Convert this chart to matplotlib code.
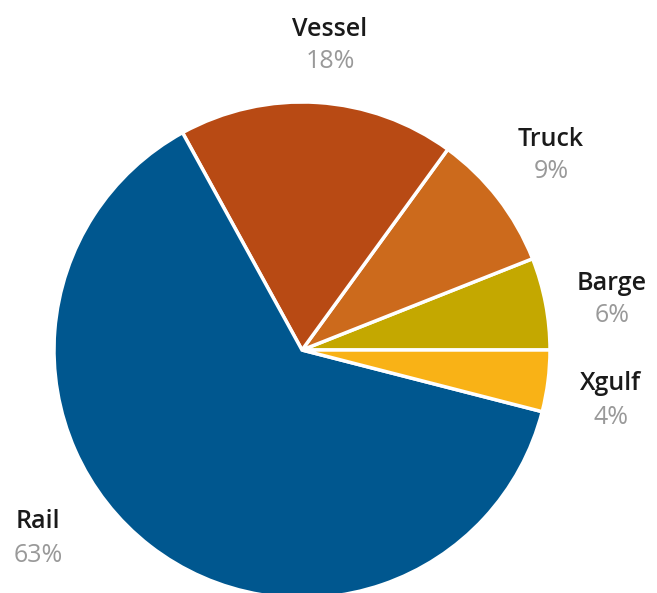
import matplotlib
matplotlib.use('Agg')
import matplotlib.pyplot as plt

# freight share by transport mode
modes = ['Barge', 'Truck', 'Vessel', 'Rail', 'Xgulf']
shares = [6, 9, 18, 63, 4]
colors = ['#C4A800', '#CC6A1C', '#B84A14', '#00578F', '#F9B216']

# label anchor (pixel position of the mode name, centre of text)
label_px = {
    'Vessel': (330, 29),
    'Truck': (551, 139),
    'Barge': (612, 283),
    'Xgulf': (611, 384),
    'Rail': (38, 522),
}

W, H = 657, 593
cx, cy, r = 302, 350, 248

plt.rcParams['font.family'] = ['Open Sans', 'DejaVu Sans']
fig = plt.figure(figsize=(W / 100, H / 100), dpi=100)
ax = fig.add_axes([(cx - r) / W, (H - cy - r) / H, 2 * r / W, 2 * r / H])

ax.pie(shares, colors=colors, startangle=0, counterclock=True, radius=1,
       wedgeprops=dict(edgecolor='white', linewidth=2.5))
ax.set_xlim(-1, 1)
ax.set_ylim(-1, 1)
ax.set_aspect('equal')
ax.axis('off')

for m, s in zip(modes, shares):
    px, py = label_px[m]
    fig.text(px / W, 1 - py / H, m, ha='center', va='center',
             fontsize=18, fontweight='semibold', color='#1a1a1a')
    fig.text(px / W, 1 - (py + 33) / H, f'{s}%', ha='center', va='center',
             fontsize=18, color='#999999')

fig.savefig('out.png', dpi=100)
